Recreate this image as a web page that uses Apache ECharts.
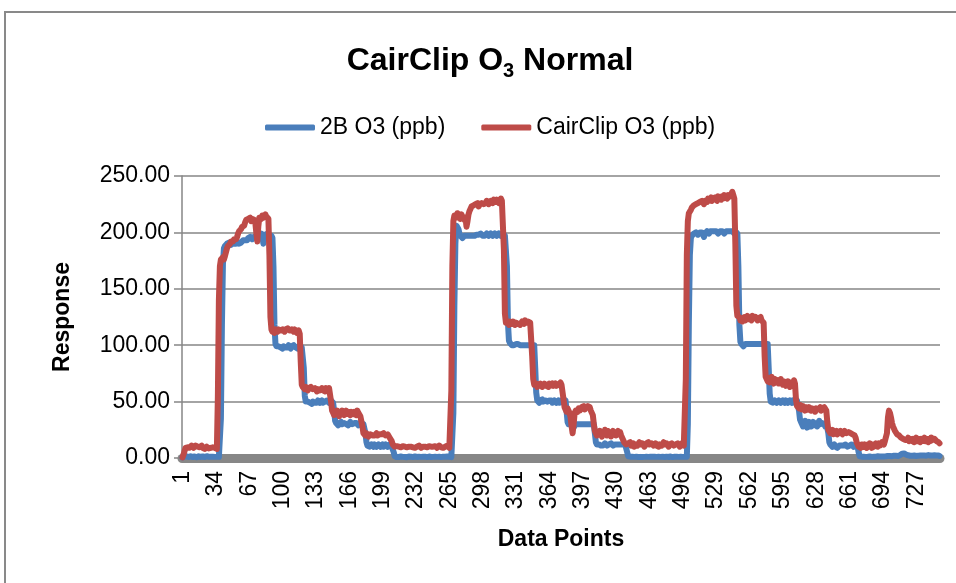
<!DOCTYPE html>
<html>
<head>
<meta charset="utf-8">
<script src="https://cdn.jsdelivr.net/npm/echarts@6/dist/echarts.min.js"></script>
<style>html,body{margin:0;padding:0;background:#fff}#c{width:956px;height:583px}</style>
</head>
<body>
<div id="c"></div>
<script>
// ---- data ----
const seriesNames = ['2B O3 (ppb)', 'CairClip O3 (ppb)'];
const yTicks = [0, 50, 100, 150, 200, 250];

const b2O3 = [
 0.5,0.8,1.2,1.0,1.5,1.1,0.9,1.3,1.6,1.2,
 0.8,1.0,1.4,1.1,0.7,1.2,1.5,1.3,0.9,1.1,
 1.4,1.0,0.8,1.2,1.6,1.3,1.0,0.9,1.2,1.5,
 1.1,0.8,1.0,1.3,1.2,0.9,1.1,1.4,
 35,118,172,186,
 188,189,190,189,191,190,189,191,190,190,
 191,190,192,191,190,189,191,192,193,192,
 193,194,193,195,194,196,195,194,196,197,
 196,195,197,198,196,197,199,197,190,196,
 198,197,199,198,197,196,197,195,
 170,118,101,
 99,98,99,100,98,99,97,99,100,98,
 99,98,100,99,97,99,98,100,99,98,
 99,97,98,100,99,98,99,
 80,55,
 50,49,50,51,49,50,48,50,51,49,
 50,49,51,50,49,50,51,49,50,50,
 49,51,50,49,50,51,50,49,
 42,33,
 31,30,29,31,30,32,30,29,31,30,
 30,31,29,30,32,31,30,29,31,30,
 31,30,29,31,30,31,32,30,29,
 22,14,
 11,12,10,11,12,11,10,12,11,10,
 11,12,11,10,11,12,10,11,12,11,
 10,11,12,11,10,11,
 5,1.5,
 1.0,0.8,1.2,0.9,1.1,1.3,0.8,1.0,1.2,0.9,
 1.1,0.7,1.0,1.3,0.9,1.2,1.0,0.8,1.1,1.4,
 1.0,0.9,1.2,1.1,0.8,1.0,1.3,1.1,0.9,1.2,
 1.0,0.8,1.1,1.3,1.0,0.9,1.2,1.0,0.8,1.1,
 1.3,1.0,0.9,1.2,1.1,0.8,1.0,1.2,0.9,1.1,
 1.0,1.3,0.9,1.1,1.0,0.8,1.2,
 40,135,190,206,
 207,203,199,197,196,195,196,197,196,197,
 198,197,196,197,198,197,198,197,196,198,
 197,198,197,199,198,197,198,197,198,199,
 198,197,198,199,198,197,198,199,198,197,
 198,199,198,197,198,199,198,197,198,
 170,120,104,
 102,101,100,101,100,99,101,100,101,100,
 100,101,100,99,100,101,100,101,100,99,
 100,101,100,101,100,
 80,58,
 51,50,49,51,50,52,50,49,51,50,
 50,49,51,50,51,49,50,51,50,49,
 50,51,49,50,51,50,49,50,51,
 42,32,
 30,29,31,30,29,27,28,30,31,30,
 29,30,31,30,29,30,31,30,29,30,
 31,30,29,30,31,30,
 22,14,
 12,11,12,13,11,12,11,12,13,12,
 11,12,12,11,13,12,11,12,12,11,
 12,11,12,13,12,11,12,11,12,11,
 5,1.5,
 1.0,1.2,0.9,1.1,1.3,1.0,0.8,1.1,1.2,0.9,
 1.1,1.0,1.3,0.9,1.2,1.0,0.8,1.1,1.3,1.0,
 0.9,1.2,1.0,1.1,0.8,1.2,1.3,1.0,0.9,1.1,
 1.2,1.0,0.8,1.1,1.3,0.9,1.0,1.2,1.1,0.9,
 1.0,1.3,1.1,0.8,1.0,1.2,0.9,1.1,1.3,1.0,
 0.9,1.1,1.2,1.0,0.8,1.1,1.0,1.2,
 30,120,180,195,
 197,198,199,198,200,199,198,199,200,201,
 200,199,196,199,200,201,200,199,201,202,
 201,200,201,202,201,200,199,200,201,200,
 201,200,199,200,201,202,201,200,201,200,
 201,200,199,201,200,199,
 170,118,103,
 101,100,99,100,101,100,101,102,101,100,
 101,100,101,102,101,100,101,100,101,102,
 101,100,101,102,101,100,101,
 80,57,
 50,51,49,50,51,50,49,50,51,50,
 49,50,51,50,49,51,50,49,50,51,
 50,49,51,50,49,50,51,50,
 42,34,
 32,30,28,31,33,29,27,30,32,31,
 28,30,32,29,31,30,28,31,33,30,
 29,31,32,30,28,31,30,
 22,14,
 12,11,10,11,12,10,11,9,10,11,
 12,11,10,11,10,12,11,10,9,11,
 10,12,11,10,11,12,11,10,
 5,1.5,
 1.0,1.2,0.9,1.1,1.3,1.0,1.2,1.1,0.9,1.3,
 1.2,1.0,1.4,1.1,1.3,1.2,1.0,1.5,1.3,1.4,
 1.6,1.3,1.5,1.4,1.7,1.5,1.6,1.8,1.5,1.7,
 1.9,1.6,1.8,2.0,1.7,1.9,2.1,1.8,2.2,2.5,
 3.0,3.8,4.5,4.0,3.4,3.0,2.6,2.4,2.2,2.0,
 1.8,2.1,1.9,2.2,2.0,1.8,2.3,2.1,2.4,2.2,
 2.0,2.3,2.5,2.2,2.4,2.1,2.3,2.6,2.4,2.2,
 2.5,2.3,2.1,2.4,2.6,2.3,2.0,2.2,1.8
];

const cairClipO3 = [
 0.5,3,6,9,10,9.5,10.5,9,10,11,
 10,9,10.5,11,9.5,10,8.5,9.5,10,11,
 9,10,8,9.5,10,9,8.5,10,9,8,
 9.5,8.5,9,10,8,
 55,140,170,176,
 177,178,176,179,178,186,188,187,190,192,
 193,192,194,195,194,196,199,201,200,203,
 205,204,206,209,211,210,212,211,213,210,
 212,213,211,209,200,192,205,213,214,212,
 215,213,214,216,214,215,212,
 180,125,114,
 112,113,111,114,113,112,114,115,113,112,
 114,113,112,114,113,115,114,113,112,114,
 113,112,114,113,111,112,113,110,
 85,65,
 63,62,61,63,62,60,62,61,63,62,
 61,60,62,61,59,61,62,60,61,62,
 60,61,59,62,61,60,62,61,
 50,42,
 40,38,41,39,42,40,37,41,39,42,
 41,38,40,42,39,41,40,38,41,42,
 39,41,40,38,42,40,39,37,38,
 28,22,
 21,20,22,21,19,20,21,22,20,21,
 20,21,22,20,19,21,22,21,20,22,
 21,20,19,21,20,18,17,15,
 12,10.5,
 10,9.5,10.5,9,10,11,9.5,10,10.5,9,
 10,9,9.5,10.5,10,9,10,11,9.5,10,
 9,10.5,10,9.5,11,10,9,10.5,10,9.5,
 10,11,9.5,10,10.5,9,10,11,10,9.5,
 10.5,10,9,10,11,10.5,9.5,10,9,10.5,
 10,9.5,11,10,9,10,
 60,170,210,215,
 216,214,217,213,215,212,216,214,215,211,
 213,205,210,216,219,221,223,222,224,223,
 225,224,226,223,225,224,226,227,225,224,
 226,228,227,225,226,228,227,226,229,228,
 227,229,228,226,228,230,228,227,
 185,128,120,
 119,120,118,121,120,119,121,120,118,120,
 121,119,120,118,119,121,120,119,122,120,
 119,121,122,120,121,
 90,70,
 65,64,66,63,65,64,66,65,63,64,
 66,65,64,65,63,66,64,65,66,64,
 65,66,64,63,65,66,67,65,64,
 52,45,
 43,41,44,42,40,36,28,22,30,40,
 42,43,41,44,42,43,45,44,46,43,
 45,44,46,47,45,42,40,38,
 30,24,
 22,20,23,21,24,22,19,23,21,25,
 22,20,24,21,23,19,22,24,21,23,
 20,22,24,21,23,20,18,16,14,
 13,12,11,13,12,14,11,12,13,10,
 12,13,11,12,14,12,11,13,12,10,
 11,13,12,14,12,11,13,12,11,12,
 13,11,12,10,12,13,11,12,14,12,
 11,13,12,10,12,11,13,12,11,10,
 12,11,13,12,10,11,13,12,11,12,
 70,180,210,217,
 218,220,222,221,224,223,225,224,226,225,
 227,226,228,227,225,228,229,227,230,228,
 229,231,228,230,229,231,230,228,232,230,
 231,229,232,230,233,231,232,230,233,234,
 232,234,236,233,230,
 190,135,126,
 127,125,122,124,121,123,125,122,124,126,
 123,125,124,122,126,124,123,125,124,122,
 124,123,125,122,121,120,
 90,72,
 70,68,71,67,69,72,68,66,70,69,
 67,69,66,68,70,67,65,68,66,64,
 66,68,65,63,67,66,64,69,66,
 52,46,
 46,44,47,45,43,46,44,42,45,44,
 43,45,44,42,44,45,43,41,44,45,
 43,44,45,42,44,43,45,44,42,
 32,25,
 24,22,23,25,21,23,22,24,21,23,
 22,24,23,21,22,24,23,22,21,23,
 24,22,23,21,22,20,18,
 14,12,10,11,9,12,13,10,12,11,
 9,12,10,13,11,9,12,10,11,13,
 12,10,13,11,12,14,13,12,15,14,
 22,36,42,40,36,31,28,26,24,23,
 21,22,20,19,18,19,17,18,16,17,
 16,18,15,17,16,15,17,14,16,18,
 15,17,16,14,17,15,16,18,15,17,
 16,14,17,15,18,16,15,17,16,15,
 16,14,13
];

// category labels: data point numbers 1..N
const dataPoints = [];
for (let i = 1; i <= Math.max(b2O3.length, cairClipO3.length); i++) dataPoints.push(String(i));

const FONT = 'Liberation Sans';
const chart = echarts.init(document.getElementById('c'), null, {renderer: 'canvas'});
chart.setOption({
  animation: false,
  backgroundColor: '#ffffff',
  title: {
    text: '{a|CairClip O}{s|3}{a| Normal}',
    left: 485, top: 36, textAlign: 'center',
    textStyle: {
      rich: {
        a: {fontFamily: FONT, fontSize: 32, fontWeight: 'bold', color: '#000', lineHeight: 40},
        s: {fontFamily: FONT, fontSize: 20, fontWeight: 'bold', color: '#000', lineHeight: 20, verticalAlign: 'bottom'}
      }
    }
  },
  legend: {
    data: seriesNames,
    left: 260, top: 111,
    itemWidth: 50, itemHeight: 6, itemGap: 36,
    icon: 'roundRect',
    textStyle: {fontFamily: FONT, fontSize: 23, color: '#000', padding: [0,0,0,0]}
  },
  graphic: [{
    type: 'rect', silent: true, z: -10,
    shape: {x: 5, y: 12, width: 1200, height: 1000},
    style: {fill: 'none', stroke: '#898989', lineWidth: 2}
  }],
  grid: {left: 182, top: 176, width: 758, height: 282, outerBoundsMode: 'none'},
  xAxis: {
    type: 'category',
    data: dataPoints,
    boundaryGap: true,
    offset: 4,
    name: 'Data Points', nameLocation: 'middle', nameGap: 66,
    nameTextStyle: {fontFamily: FONT, fontSize: 23, fontWeight: 'bold', color: '#000'},
    axisLine: {show: true, lineStyle: {color: '#878787', width: 9}},
    axisTick: {show: false},
    axisLabel: {interval: 32, rotate: 90, fontFamily: FONT, fontSize: 23, color: '#000', margin: 9},
    splitLine: {show: false}
  },
  yAxis: {
    type: 'value', min: yTicks[0], max: yTicks[yTicks.length - 1], interval: yTicks[1] - yTicks[0],
    name: 'Response', nameLocation: 'middle', nameGap: 108,
    nameTextStyle: {fontFamily: FONT, fontSize: 23, fontWeight: 'bold', color: '#000'},
    axisLine: {show: true, lineStyle: {color: '#868686', width: 1.5}},
    axisTick: {show: true, length: 8, lineStyle: {color: '#868686', width: 1.5}},
    axisLabel: {fontFamily: FONT, fontSize: 23, color: '#000', margin: 12, formatter: v => v.toFixed(2)},
    splitLine: {show: true, lineStyle: {color: '#868686', width: 1.5}}
  },
  series: [
    {name: seriesNames[0], type: 'line', data: b2O3, showSymbol: false, symbol: 'none',
     color: '#4a7ebb', lineStyle: {color: '#4a7ebb', width: 6, cap: 'round', join: 'round'}, z: 2},
    {name: seriesNames[1], type: 'line', data: cairClipO3, showSymbol: false, symbol: 'none',
     color: '#be4b48', lineStyle: {color: '#be4b48', width: 6, cap: 'round', join: 'round'}, z: 3}
  ]
});
</script>
</body>
</html>
